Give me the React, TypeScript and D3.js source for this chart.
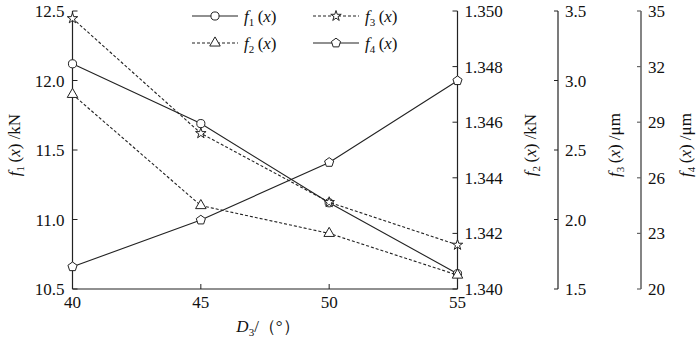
import React from "react";
import * as d3 from "d3";

const xValues = [40, 45, 50, 55];
const f1Values = [12.12, 11.69, 11.12, 10.61];
const f2Values = [1.347, 1.343, 1.342, 1.3405];
const f3Values = [3.447, 2.62, 2.124, 1.817];
const f4Values = [21.2, 23.72, 26.83, 31.24];

const xTicks = [40, 45, 50, 55];
const f1Ticks = [10.5, 11.0, 11.5, 12.0, 12.5];
const f2Ticks = [1.34, 1.342, 1.344, 1.346, 1.348, 1.35];
const f3Ticks = [1.5, 2.0, 2.5, 3.0, 3.5];
const f4Ticks = [20, 23, 26, 29, 32, 35];

const W = 700;
const H = 342;
const left = 72.5;
const right = 457.5;
const top = 11;
const bottom = 289;
const f3X = 558;
const f4X = 641;
const INK = "#222";
const FONT = "Liberation Serif";

const x = d3.scaleLinear().domain([40, 55]).range([left, right]);
const y1 = d3.scaleLinear().domain([10.5, 12.5]).range([bottom, top]);
const y2 = d3.scaleLinear().domain([1.34, 1.35]).range([bottom, top]);
const y3 = d3.scaleLinear().domain([1.5, 3.5]).range([bottom, top]);
const y4 = d3.scaleLinear().domain([20, 35]).range([bottom, top]);

function pentagonPath(r: number) {
  const pts: string[] = [];
  for (let i = 0; i < 5; i++) {
    const a = -Math.PI / 2 + (i * 2 * Math.PI) / 5;
    pts.push(`${(r * Math.cos(a)).toFixed(2)},${(r * Math.sin(a)).toFixed(2)}`);
  }
  return "M" + pts.join("L") + "Z";
}

const markerPaths: Record<string, string> = {
  circle: d3.symbol().type(d3.symbolCircle).size(52)() as string,
  triangle: d3.symbol().type(d3.symbolTriangle).size(48)() as string,
  star: d3.symbol().type(d3.symbolStar).size(34)() as string,
  pentagon: pentagonPath(4.8),
};

type Series = {
  name: string;
  sub: string;
  values: number[];
  scale: d3.ScaleLinear<number, number>;
  dashed: boolean;
  marker: string;
};

const series: Series[] = [
  { name: "f1", sub: "1", values: f1Values, scale: y1, dashed: false, marker: "circle" },
  { name: "f2", sub: "2", values: f2Values, scale: y2, dashed: true, marker: "triangle" },
  { name: "f3", sub: "3", values: f3Values, scale: y3, dashed: true, marker: "star" },
  { name: "f4", sub: "4", values: f4Values, scale: y4, dashed: false, marker: "pentagon" },
];

function FLabel({ sub, suffix }: { sub: string; suffix?: string }) {
  return (
    <>
      <tspan fontStyle="italic">f</tspan>
      <tspan fontSize={11} dy={4}>{sub}</tspan>
      <tspan dy={-4}>{"\u2009("}</tspan>
      <tspan fontStyle="italic">x</tspan>
      <tspan>{")"}</tspan>
      {suffix ? <tspan>{suffix}</tspan> : null}
    </>
  );
}

export default function App() {
  const line = (s: Series) =>
    d3
      .line<number>()
      .x((_, i) => x(xValues[i]))
      .y((v) => s.scale(v))(s.values) as string;

  const legend = [
    { s: series[0], lx: 192, ly: 16 },
    { s: series[1], lx: 192, ly: 43 },
    { s: series[2], lx: 313, ly: 16 },
    { s: series[3], lx: 313, ly: 43 },
  ];

  const ts = { fontSize: 17, fill: "#111", style: { fontFamily: FONT } };

  return (
    <svg width={W} height={H} style={{ position: "absolute", left: 0, top: 0 }}>
      <rect width={W} height={H} fill="#fff" />
      <g stroke={INK} strokeWidth={1.2} fill="none">
        <line x1={left} y1={top} x2={left} y2={bottom} />
        <line x1={left} y1={bottom} x2={right} y2={bottom} />
        <line x1={right} y1={top} x2={right} y2={bottom} />
        <line x1={f3X} y1={top} x2={f3X} y2={bottom} />
      </g>
      <line x1={f4X} y1={top} x2={f4X} y2={bottom} stroke="#666" strokeWidth={1.6} />

      {f1Ticks.map((t) => (
        <g key={"f1" + t}>
          <line x1={left} x2={left + 5} y1={y1(t)} y2={y1(t)} stroke={INK} strokeWidth={1} />
          <text x={left - 8} y={y1(t) + 6} textAnchor="end" {...ts}>
            {t.toFixed(1)}
          </text>
        </g>
      ))}
      {xTicks.map((t) => (
        <g key={"x" + t}>
          <line x1={x(t)} x2={x(t)} y1={bottom} y2={bottom - 5} stroke={INK} strokeWidth={1} />
          <text x={x(t)} y={308} textAnchor="middle" {...ts}>
            {t}
          </text>
        </g>
      ))}
      {f2Ticks.map((t) => (
        <g key={"f2" + t}>
          <line x1={right} x2={right - 5} y1={y2(t)} y2={y2(t)} stroke={INK} strokeWidth={1} />
          <text x={right + 7} y={y2(t) + 6} {...ts}>
            {t.toFixed(3)}
          </text>
        </g>
      ))}
      {f3Ticks.map((t) => (
        <g key={"f3" + t}>
          <line x1={f3X} x2={f3X - 4} y1={y3(t)} y2={y3(t)} stroke={INK} strokeWidth={1} />
          <text x={f3X + 7} y={y3(t) + 6} {...ts}>
            {t.toFixed(1)}
          </text>
        </g>
      ))}
      {f4Ticks.map((t) => (
        <g key={"f4" + t}>
          <line x1={f4X} x2={f4X - 4} y1={y4(t)} y2={y4(t)} stroke="#666" strokeWidth={1.2} />
          <text x={f4X + 7} y={y4(t) + 6} {...ts}>
            {t}
          </text>
        </g>
      ))}

      <text transform="translate(20,145) rotate(-90)" textAnchor="middle" {...ts}>
        <FLabel sub="1" suffix=" /kN" />
      </text>
      <text transform="translate(536,145) rotate(-90)" textAnchor="middle" {...ts}>
        <FLabel sub="2" suffix=" /kN" />
      </text>
      <text transform="translate(620,145) rotate(-90)" textAnchor="middle" {...ts}>
        <FLabel sub="3" suffix={" /\u03bcm"} />
      </text>
      <text transform="translate(691,145) rotate(-90)" textAnchor="middle" {...ts}>
        <FLabel sub="4" suffix={" /\u03bcm"} />
      </text>
      <text x={268} y={332} textAnchor="middle" {...ts}>
        <tspan fontStyle="italic">D</tspan>
        <tspan fontSize={11} dy={4}>3</tspan>
        <tspan dy={-4}>{"/（°）"}</tspan>
      </text>

      {series.map((s) => (
        <g key={s.name}>
          <path
            d={line(s)}
            fill="none"
            stroke={INK}
            strokeWidth={1.1}
            strokeDasharray={s.dashed ? "3,2" : undefined}
          />
          {s.values.map((v, i) => (
            <path
              key={i}
              d={markerPaths[s.marker]}
              transform={`translate(${x(xValues[i])},${s.scale(v)})`}
              fill="#fff"
              stroke={INK}
              strokeWidth={1}
            />
          ))}
        </g>
      ))}

      {legend.map(({ s, lx, ly }) => (
        <g key={"lg" + s.name}>
          <line
            x1={lx}
            x2={lx + 46}
            y1={ly}
            y2={ly}
            stroke={INK}
            strokeWidth={1.1}
            strokeDasharray={s.dashed ? "3,2" : undefined}
          />
          <path
            d={markerPaths[s.marker]}
            transform={`translate(${lx + 23},${ly})`}
            fill="#fff"
            stroke={INK}
            strokeWidth={1}
          />
          <text x={lx + 52} y={ly + 6} {...ts}>
            <FLabel sub={s.sub} />
          </text>
        </g>
      ))}
    </svg>
  );
}
